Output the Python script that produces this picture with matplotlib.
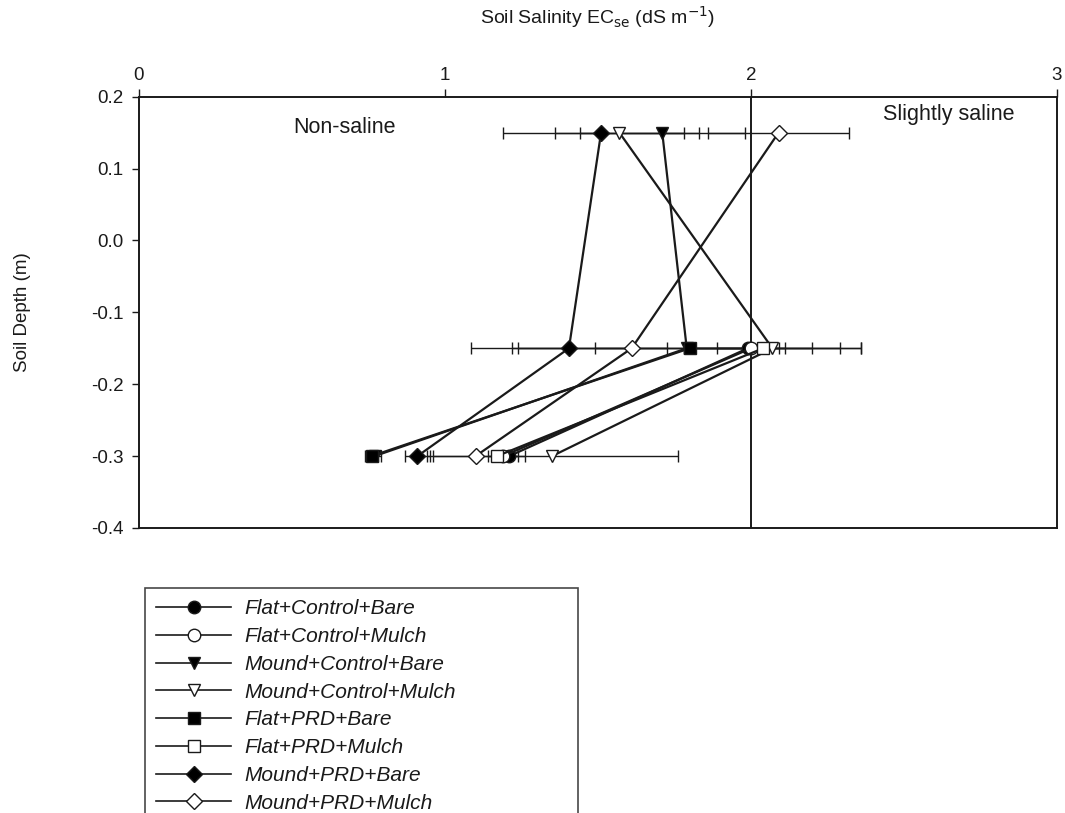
import matplotlib
matplotlib.use("Agg")
import matplotlib.pyplot as plt
from matplotlib.lines import Line2D

plt.rcParams['font.family'] = ['Liberation Sans', 'DejaVu Sans']

# Soil depth (m) of each sampling layer
depth_mound = [0.15, -0.15, -0.30]
depth_flat = [-0.15, -0.30]

# Mean soil salinity ECse (dS/m) and horizontal error (+/-) per treatment
labels = ["Flat+Control+Bare", "Flat+Control+Mulch",
          "Mound+Control+Bare", "Mound+Control+Mulch",
          "Flat+PRD+Bare", "Flat+PRD+Mulch",
          "Mound+PRD+Bare", "Mound+PRD+Mulch"]

fcb_ec = [1.99, 1.21];         fcb_err = [0.21, 0.05]
fcm_ec = [2.00, 1.19];         fcm_err = [0.11, 0.02]
mcb_ec = [1.71, 1.79, 0.77];   mcb_err = [0.27, 0.30, 0.02]
mcm_ec = [1.57, 2.07, 1.35];   mcm_err = [0.21, 0.29, 0.41]
fpb_ec = [1.80, 0.76];         fpb_err = [0.56, 0.02]
fpm_ec = [2.04, 1.17];         fpm_err = [0.25, 0.03]
mpb_ec = [1.51, 1.405, 0.91];  mpb_err = [0.32, 0.32, 0.04]
mpm_ec = [2.09, 1.61, 1.10];   mpm_err = [0.23, 0.39, 0.14]

x_ticks = [0, 1, 2, 3]
y_ticks = [0.2, 0.1, 0.0, -0.1, -0.2, -0.3, -0.4]
y_ticklabels = ["0.2", "0.1", "0.0", "-0.1", "-0.2", "-0.3", "-0.4"]

series = [
    (fcb_ec, fcb_err, depth_flat, 'o', 'black'),
    (fcm_ec, fcm_err, depth_flat, 'o', 'white'),
    (mcb_ec, mcb_err, depth_mound, 'v', 'black'),
    (mcm_ec, mcm_err, depth_mound, 'v', 'white'),
    (fpb_ec, fpb_err, depth_flat, 's', 'black'),
    (fpm_ec, fpm_err, depth_flat, 's', 'white'),
    (mpb_ec, mpb_err, depth_mound, 'D', 'black'),
    (mpm_ec, mpm_err, depth_mound, 'D', 'white'),
]

ink = '#1a1a1a'
fig = plt.figure(figsize=(10.65, 8.13), dpi=100)
ax = fig.add_axes([0.1305, 0.3506, 0.862, 0.5304])

# error bars first, then lines and markers on top
for ec, err, dep, mk, fc in series:
    ax.errorbar(ec, dep, xerr=err, fmt='none', ecolor=ink, elinewidth=1.0,
                capsize=4.5, capthick=1.0, zorder=2)
handles = []
for (ec, err, dep, mk, fc), lab in zip(series, labels):
    ms = 8 if mk == 'D' else 9
    ax.plot(ec, dep, color=ink, lw=1.6, marker=mk, markersize=ms,
            markerfacecolor=fc, markeredgecolor=ink, markeredgewidth=1.0, zorder=3)
    handles.append(Line2D([], [], color=ink, lw=1.2, marker=mk, markersize=ms,
                          markerfacecolor=fc, markeredgecolor=ink,
                          markeredgewidth=1.0, label=lab))

# salinity class boundary at 2 dS/m
ax.axvline(2, color=ink, lw=1.4, zorder=1)

ax.set_xlim(0, 3)
ax.set_ylim(-0.4, 0.2)
ax.xaxis.tick_top()
ax.xaxis.set_label_position('top')
ax.set_xticks(x_ticks)
ax.set_xticklabels([str(v) for v in x_ticks])
ax.set_yticks(y_ticks)
ax.set_yticklabels(y_ticklabels)
ax.tick_params(axis='x', direction='out', length=6, width=1.0, pad=3,
               labelsize=13.5, colors=ink)
ax.tick_params(axis='y', direction='out', length=5, width=1.0, pad=6,
               labelsize=13.5, colors=ink)
for sp in ax.spines.values():
    sp.set_linewidth(1.4)
    sp.set_color(ink)

ax.set_xlabel(r"Soil Salinity EC$_{\rm se}$ (dS m$^{-1}$)", fontsize=14,
              labelpad=31, color=ink)
ax.set_ylabel("Soil Depth (m)", fontsize=13.5, labelpad=43, color=ink)

ax.text(0.67, 0.157, "Non-saline", fontsize=15.5, ha='center', va='center', color=ink)
ax.text(2.645, 0.175, "Slightly saline", fontsize=15.5, ha='center', va='center', color=ink)

# legend box spans a fixed width below the plot
lx0, ly_top, lx1 = 145 / 1065, 1 - 588 / 813, 578 / 1065
leg = fig.legend(handles=handles, loc='upper left', mode='expand',
                 bbox_to_anchor=(lx0, ly_top - 0.01, lx1 - lx0, 0.01),
                 frameon=True, fancybox=False, edgecolor=ink,
                 prop={'style': 'italic', 'size': 15},
                 handlelength=3.6, handletextpad=0.6, labelspacing=0.42,
                 borderpad=0.55, borderaxespad=0)
leg.get_frame().set_linewidth(1.2)
for t in leg.get_texts():
    t.set_color(ink)

fig.savefig("out.png", dpi=100)
